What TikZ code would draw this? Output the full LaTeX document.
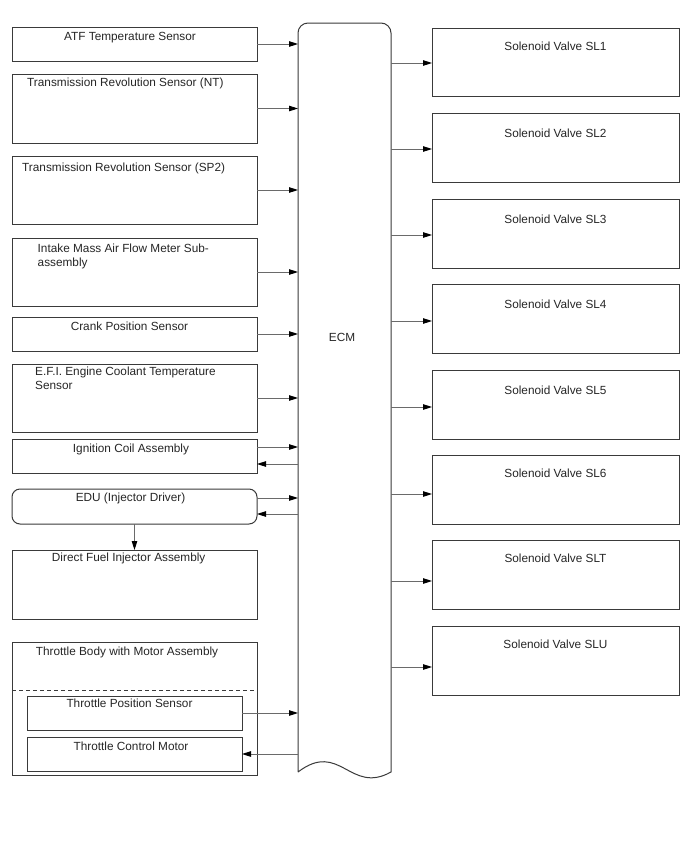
\documentclass[tikz,border=0pt]{standalone}
\usepackage{fontspec}
\setmainfont{Liberation Sans}
\usetikzlibrary{arrows.meta}
\definecolor{bord}{HTML}{3A3A3A}
\definecolor{conn}{HTML}{6A6A6A}
\begin{document}
\begin{tikzpicture}[x=1pt,y=-1pt,
  box/.style={draw=bord, line width=1pt, inner sep=0pt, outer sep=0pt, minimum width=245pt},
  sbox/.style={draw=bord, line width=1pt, inner sep=0pt, outer sep=0pt, minimum width=247pt, minimum height=68.5pt},
  txt/.style={inner sep=0pt, anchor=base, font=\fontsize{11.8}{13.6}\selectfont, text=black!85},
  ltxt/.style={txt, anchor=base west, align=left},
  arr/.style={draw=conn, line width=0.9pt, -{Triangle[length=9pt,width=5.5pt,color=black]}}]
\useasboundingbox (0,0) rectangle (688,852);
\fill[white] (0,0) rectangle (688,852);

% left column
\node[box, minimum height=34pt] (atf) at (134.5,44) {};
\node[box, minimum height=69pt] (nt) at (134.5,108.5) {};
\node[box, minimum height=68pt] (sp2) at (134.5,190) {};
\node[box, minimum height=68pt] (maf) at (134.5,272) {};
\node[box, minimum height=34pt] (crank) at (134.5,334) {};
\node[box, minimum height=68pt] (efi) at (134.5,398) {};
\node[box, minimum height=34pt] (ign) at (134.5,456) {};
\node[box, minimum height=35pt, rounded corners=8pt] (edu) at (134.5,506.5) {};
\node[box, minimum height=69pt] (dfi) at (134.5,584.5) {};
\node[box, minimum height=133pt] (tb) at (134.5,708.5) {};
\node[box, minimum width=215pt, minimum height=34pt] (tps) at (134.5,713) {};
\node[box, minimum width=215pt, minimum height=34pt] (tcm) at (134.5,754) {};
\draw[bord, line width=1pt, dash pattern=on 4pt off 3pt] (12,690) -- (257,690);

\node[txt] (tatf) at (130,40) {ATF Temperature Sensor};
\node[ltxt] (tnt) at (27,86) {Transmission Revolution Sensor (NT)};
\node[ltxt] (tsp2) at (22,171) {Transmission Revolution Sensor (SP2)};
\node[ltxt] (tmaf) at (37.5,266.5) {Intake Mass Air Flow Meter Sub-\\assembly};
\node[txt] (tcrank) at (129.5,330) {Crank Position Sensor};
\node[ltxt] (tefi) at (35,389.5) {E.F.I. Engine Coolant Temperature\\Sensor};
\node[txt] (tign) at (131,452) {Ignition Coil Assembly};
\node[txt] (tedu) at (130.5,501) {EDU (Injector Driver)};
\node[txt] (tdfi) at (128.7,561) {Direct Fuel Injector Assembly};
\node[txt] (ttb) at (127,655) {Throttle Body with Motor Assembly};
\node[txt] (ttps) at (129.5,707) {Throttle Position Sensor};
\node[txt] (ttcm) at (131,750) {Throttle Control Motor};

% ECM
\node[inner sep=0pt, outer sep=0pt, minimum width=93pt, minimum height=749pt] (ecm) at (344.5,397.5) {};
\draw[bord, line width=1pt] (ecm.south west) [rounded corners=10pt] -- (ecm.north west) -- (ecm.north east) [sharp corners] -- (ecm.south east)
  .. controls ([shift={(-41,23)}]ecm.south east) and ([shift={(42,-32)}]ecm.south west) .. (ecm.south west);
\node[txt] (tecm) at (342,341) {ECM};

% inputs
\foreach \src in {atf,nt,sp2,maf,crank,efi,tps}
  \draw[arr] (\src.east) -- (\src.east -| ecm.west);
\draw[arr] ([yshift=9pt]ign.east) -- ([yshift=9pt]ign.east -| ecm.west);
\draw[arr] ([yshift=-8pt]ign.east -| ecm.west) -- ([yshift=-8pt]ign.east);
\draw[arr] ([yshift=8.5pt]edu.east) -- ([yshift=8.5pt]edu.east -| ecm.west);
\draw[arr] ([yshift=-7.5pt]edu.east -| ecm.west) -- ([yshift=-7.5pt]edu.east);
\draw[arr] (tcm.east -| ecm.west) -- (tcm.east);
\draw[arr] (edu.south) -- (dfi.north);

% solenoids
\foreach \nm/\lab/\cy/\dy/\ty in {sl1/SL1/62.5/-0.5pt/50, sl2/SL2/148/-1pt/137, sl3/SL3/234/-1pt/223, sl4/SL4/319/-2pt/308, sl5/SL5/405/-2pt/394, sl6/SL6/490/-4pt/477, slt/SLT/575/-6pt/562, slu/SLU/661/-6pt/648} {
  \node[sbox] (\nm) at (555.5,\cy) {};
  \node[txt] (t\nm) at (555.5,\ty) {Solenoid Valve \lab};
  \draw[arr] ([yshift=\dy]\nm.west -| ecm.east) -- ([yshift=\dy]\nm.west);
}
\end{tikzpicture}
\end{document}
